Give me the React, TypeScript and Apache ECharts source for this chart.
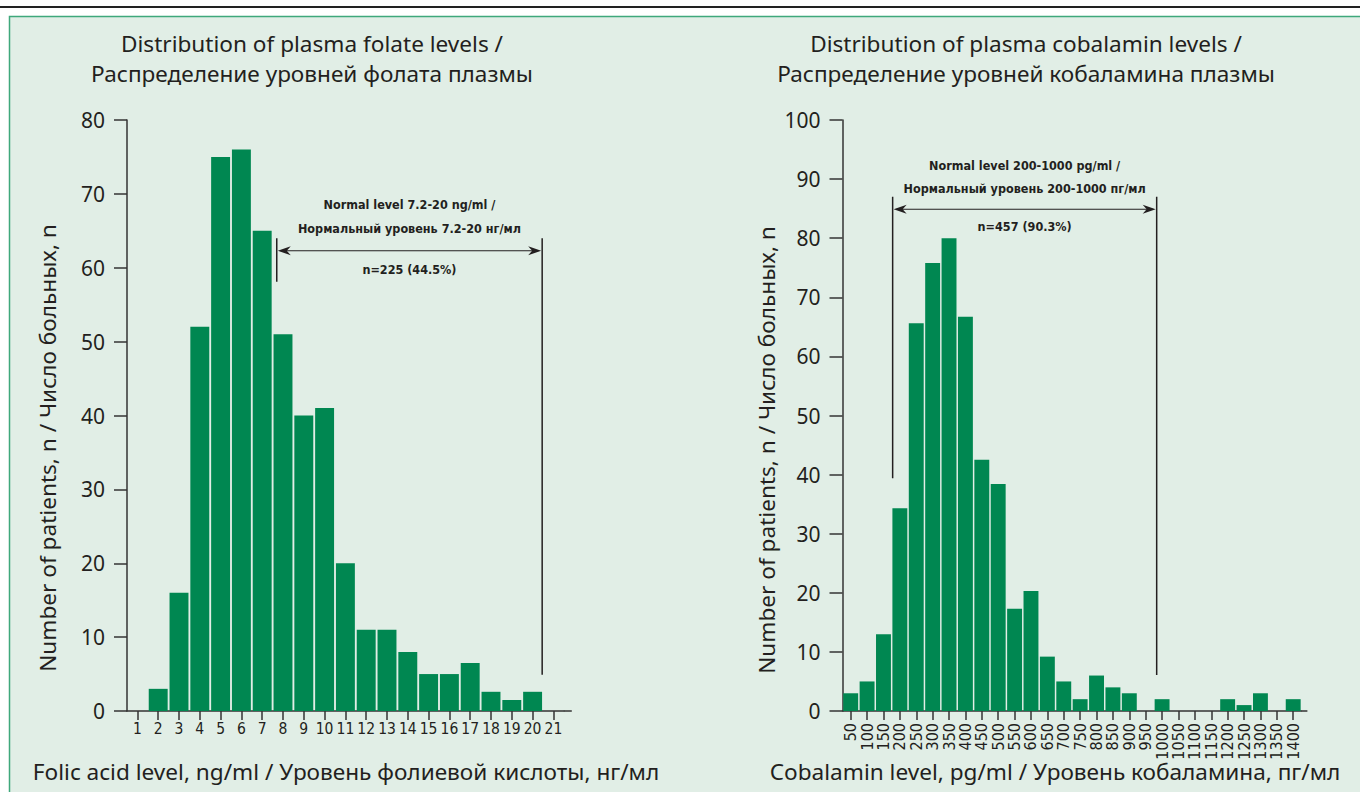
import React, { useEffect, useRef } from "react";
import * as echarts from "echarts";

// ---------- data ----------
const FOLATE_CATEGORIES = ["1","2","3","4","5","6","7","8","9","10","11","12","13","14","15","16","17","18","19","20","21"];
const FOLATE_COUNTS = [0, 3, 16, 52, 75, 76, 65, 51, 40, 41, 20, 11, 11, 8, 5, 5, 6.5, 2.6, 1.5, 2.6, 0];

const COBALAMIN_CATEGORIES = ["50","100","150","200","250","300","350","400","450","500","550","600","650","700","750","800","850","900","950","1000","1050","1100","1150","1200","1250","1300","1350","1400"];
const COBALAMIN_COUNTS = [3, 5, 13, 34.3, 65.6, 75.8, 80, 66.7, 42.5, 38.4, 17.3, 20.3, 9.2, 5, 2, 6, 4, 3, 0, 2, 0, 0, 0, 2, 1, 3, 0, 2];

const FOLATE_Y_MAX = 80;
const COBALAMIN_Y_MAX = 100;
const Y_INTERVAL = 10;

const FOLATE_TITLE = "Distribution of plasma folate levels /\nРаспределение уровней фолата плазмы";
const COBALAMIN_TITLE = "Distribution of plasma cobalamin levels /\nРаспределение уровней кобаламина плазмы";
const Y_TITLE = "Number of patients, n / Число больных, n";
const FOLATE_X_TITLE = "Folic acid level, ng/ml / Уровень фолиевой кислоты, нг/мл";
const COBALAMIN_X_TITLE = "Cobalamin level, pg/ml / Уровень кобаламина, пг/мл";

const FOLATE_NOTE = "Normal level 7.2-20 ng/ml /\nНормальный уровень 7.2-20 нг/мл";
const FOLATE_N = "n=225 (44.5%)";
const COBALAMIN_NOTE = "Normal level 200-1000 pg/ml /\nНормальный уровень 200-1000 пг/мл";
const COBALAMIN_N = "n=457 (90.3%)";

// annotation anchors in category-index / value units
const FOLATE_ANN = { from: 6.7, to: 19.46, top: 64, leftBottom: 58.1, rightBottom: 4.9, arrow: 62.3, note: 66.9, n: 59.7, lh: 24 };
const COBALAMIN_ANN = { from: 2.56, to: 18.67, top: 87, leftBottom: 39.4, rightBottom: 6.1, arrow: 84.9, note: 90.4, n: 81.9, lh: 23 };

const TEXT = "#231f20";
const AXIS = "#333333";
const BAR = "#008751";
const MAIN_FONT = "'Noto Sans', 'Open Sans', sans-serif";
const NARROW = "'Liberation Sans Narrow', 'DejaVu Sans Condensed', sans-serif";

function axisPair(gridIndex: number, cats: string[], yMax: number, rotated: boolean) {
  const xAxis: any = {
    type: "category",
    gridIndex,
    data: cats,
    axisLine: { show: true, lineStyle: { color: AXIS, width: 1.5 } },
    axisTick: { show: true, alignWithLabel: true, length: 9, lineStyle: { color: AXIS, width: 1.5 } },
    axisLabel: rotated
      ? { rotate: 90, margin: 12, fontSize: 16, fontFamily: NARROW, color: TEXT, interval: 0 }
      : { margin: 10, fontSize: 15.5, fontFamily: NARROW, color: TEXT, interval: 0 },
    splitLine: { show: false },
  };
  const yAxis: any = {
    type: "value",
    gridIndex,
    min: 0,
    max: yMax,
    interval: Y_INTERVAL,
    axisLine: { show: true, lineStyle: { color: AXIS, width: 1.5 } },
    axisTick: { show: true, length: 13, lineStyle: { color: AXIS, width: 1.5 } },
    axisLabel: { margin: 22, fontSize: 21, fontFamily: MAIN_FONT, color: TEXT },
    splitLine: { show: false },
  };
  return { xAxis, yAxis };
}

export default function App() {
  const ref = useRef<HTMLDivElement>(null);

  useEffect(() => {
    if (!ref.current) return;
    const chart = echarts.init(ref.current, undefined, { renderer: "svg" });
    const a = axisPair(0, FOLATE_CATEGORIES, FOLATE_Y_MAX, false);
    const b = axisPair(1, COBALAMIN_CATEGORIES, COBALAMIN_Y_MAX, true);

    const big = `22.6px ${MAIN_FONT}`;
    const staticGraphics: any[] = [
      { type: "rect", z: -10, silent: true, shape: { x: 9.5, y: 16.5, width: 1400, height: 900 }, style: { fill: "#e1eee6", stroke: "#3fa87b", lineWidth: 1.5 } },
      { type: "line", z: -10, silent: true, shape: { x1: 0, y1: 7, x2: 1360, y2: 7 }, style: { stroke: "#222", lineWidth: 2 } },
      { type: "text", x: 312, y: 58, style: { text: FOLATE_TITLE, fill: TEXT, font: big, textAlign: "center", textVerticalAlign: "middle", lineHeight: 30 } },
      { type: "text", x: 1026, y: 58, style: { text: COBALAMIN_TITLE, fill: TEXT, font: big, textAlign: "center", textVerticalAlign: "middle", lineHeight: 30 } },
      { type: "text", x: 47, y: 448, rotation: Math.PI / 2, style: { text: Y_TITLE, fill: TEXT, font: big, textAlign: "center", textVerticalAlign: "middle" } },
      { type: "text", x: 766, y: 450, rotation: Math.PI / 2, style: { text: Y_TITLE, fill: TEXT, font: big, textAlign: "center", textVerticalAlign: "middle" } },
      { type: "text", x: 346, y: 771, style: { text: FOLATE_X_TITLE, fill: TEXT, font: big, textAlign: "center", textVerticalAlign: "middle" } },
      { type: "text", x: 1055, y: 771, style: { text: COBALAMIN_X_TITLE, fill: TEXT, font: big, textAlign: "center", textVerticalAlign: "middle" } },
    ];

    chart.setOption({
      animation: false,
      grid: [
        { left: 127, top: 120, width: 436.8, height: 591 },
        { left: 842.5, top: 120, width: 458.9, height: 591 },
      ],
      xAxis: [a.xAxis, b.xAxis],
      yAxis: [a.yAxis, b.yAxis],
      series: [
        { type: "bar", xAxisIndex: 0, yAxisIndex: 0, data: FOLATE_COUNTS, barCategoryGap: "9%", itemStyle: { color: BAR }, silent: true },
        { type: "bar", xAxisIndex: 1, yAxisIndex: 1, data: COBALAMIN_COUNTS, barCategoryGap: "9%", itemStyle: { color: BAR }, silent: true },
      ],
      graphic: staticGraphics,
    });

    const xOf = (axis: number, idx: number) => {
      const p0 = chart.convertToPixel({ xAxisIndex: axis } as any, 0) as unknown as number;
      const p1 = chart.convertToPixel({ xAxisIndex: axis } as any, 1) as unknown as number;
      return p0 + (p1 - p0) * idx;
    };
    const yOf = (axis: number, v: number) => chart.convertToPixel({ yAxisIndex: axis } as any, v) as unknown as number;

    const lineStyle = { stroke: TEXT, lineWidth: 1.5 };
    const noteFont = `bold 12.5px ${NARROW}`;
    const annotation = (axis: number, ann: any, note: string, n: string) => {
      const xl = xOf(axis, ann.from);
      const xr = xOf(axis, ann.to);
      const yt = yOf(axis, ann.top);
      const ya = yOf(axis, ann.arrow);
      const cx = (xl + xr) / 2;
      const ah = 13, aw = 4.5, notch = 9;
      return [
        { type: "line", silent: true, shape: { x1: xl, y1: yt, x2: xl, y2: yOf(axis, ann.leftBottom) }, style: lineStyle },
        { type: "line", silent: true, shape: { x1: xr, y1: yt, x2: xr, y2: yOf(axis, ann.rightBottom) }, style: lineStyle },
        { type: "line", silent: true, shape: { x1: xl + 4, y1: ya, x2: xr - 4, y2: ya }, style: { stroke: TEXT, lineWidth: 1.2 } },
        { type: "polygon", silent: true, shape: { points: [[xl + 1, ya], [xl + 1 + ah, ya - aw], [xl + 1 + notch, ya], [xl + 1 + ah, ya + aw]] }, style: { fill: TEXT } },
        { type: "polygon", silent: true, shape: { points: [[xr - 1, ya], [xr - 1 - ah, ya - aw], [xr - 1 - notch, ya], [xr - 1 - ah, ya + aw]] }, style: { fill: TEXT } },
        { type: "text", silent: true, x: cx, y: yOf(axis, ann.note), style: { text: note, fill: TEXT, font: noteFont, textAlign: "center", textVerticalAlign: "middle", lineHeight: ann.lh } },
        { type: "text", silent: true, x: cx, y: yOf(axis, ann.n), style: { text: n, fill: TEXT, font: noteFont, textAlign: "center", textVerticalAlign: "middle" } },
      ];
    };

    // small extensions of the x axis lines beyond the last category
    const extension = (axis: number, count: number, extra: number) => {
      const xe = xOf(axis, count - 0.5);
      const y0 = yOf(axis, 0);
      return { type: "line", silent: true, shape: { x1: xe, y1: y0, x2: xe + extra, y2: y0 }, style: { stroke: AXIS, lineWidth: 1.5 } };
    };

    chart.setOption({
      graphic: [
        ...staticGraphics,
        ...annotation(0, FOLATE_ANN, FOLATE_NOTE, FOLATE_N),
        ...annotation(1, COBALAMIN_ANN, COBALAMIN_NOTE, COBALAMIN_N),
        extension(0, FOLATE_CATEGORIES.length, 8),
        extension(1, COBALAMIN_CATEGORIES.length, 6),
      ],
    }, { replaceMerge: ["graphic"] } as any);

    return () => chart.dispose();
  }, []);

  return (
    <div style={{ position: "absolute", left: 0, top: 0, width: 1360, height: 792, background: "#fff", overflow: "hidden" }}>
      <div ref={ref} style={{ width: 1360, height: 792 }} />
    </div>
  );
}
